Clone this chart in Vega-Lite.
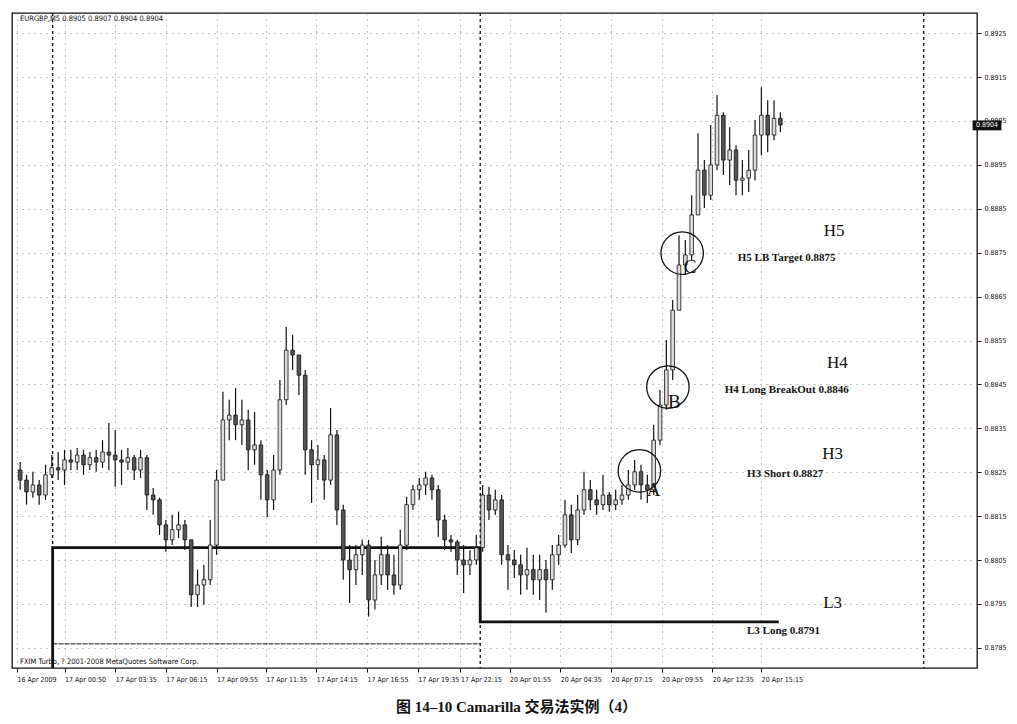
{
  "$schema": "https://vega.github.io/schema/vega-lite/v6.json",
  "width": 965,
  "height": 655,
  "autosize": {"type": "none"},
  "padding": {"left": 12, "top": 13, "right": 40, "bottom": 56},
  "background": "#ffffff",
  "title": {
    "text": "图 14–10   Camarilla 交易法实例（4）",
    "orient": "bottom",
    "anchor": "middle",
    "offset": 18,
    "dx": 22,
    "fontSize": 15,
    "font": "Liberation Serif, Noto Sans CJK SC",
    "fontWeight": "bold",
    "color": "#111"
  },
  "datasets": {
    "bars": [
      {"t":2,"o":0.88255,"h":0.88273,"l":0.88210,"c":0.88232},
      {"t":6,"o":0.88232,"h":0.88244,"l":0.88176,"c":0.88205},
      {"t":10,"o":0.88205,"h":0.88251,"l":0.88192,"c":0.88221},
      {"t":14,"o":0.88221,"h":0.88232,"l":0.88176,"c":0.88198},
      {"t":18,"o":0.88198,"h":0.88267,"l":0.88187,"c":0.88244},
      {"t":22,"o":0.88244,"h":0.88289,"l":0.88237,"c":0.88260},
      {"t":26,"o":0.88260,"h":0.88296,"l":0.88232,"c":0.88255},
      {"t":30,"o":0.88255,"h":0.88301,"l":0.88221,"c":0.88278},
      {"t":34,"o":0.88278,"h":0.88301,"l":0.88255,"c":0.88273},
      {"t":38,"o":0.88273,"h":0.88305,"l":0.88255,"c":0.88289},
      {"t":42,"o":0.88289,"h":0.88301,"l":0.88244,"c":0.88267},
      {"t":46,"o":0.88267,"h":0.88296,"l":0.88255,"c":0.88283},
      {"t":50,"o":0.88283,"h":0.88301,"l":0.88251,"c":0.88273},
      {"t":54,"o":0.88273,"h":0.88323,"l":0.88260,"c":0.88296},
      {"t":58,"o":0.88296,"h":0.88362,"l":0.88255,"c":0.88289},
      {"t":62,"o":0.88289,"h":0.88346,"l":0.88217,"c":0.88278},
      {"t":66,"o":0.88278,"h":0.88301,"l":0.88221,"c":0.88273},
      {"t":70,"o":0.88273,"h":0.88305,"l":0.88255,"c":0.88283},
      {"t":74,"o":0.88283,"h":0.88289,"l":0.88232,"c":0.88255},
      {"t":78,"o":0.88255,"h":0.88301,"l":0.88237,"c":0.88283},
      {"t":82,"o":0.88283,"h":0.88289,"l":0.88164,"c":0.88198},
      {"t":86,"o":0.88198,"h":0.88214,"l":0.88153,"c":0.88187},
      {"t":90,"o":0.88187,"h":0.88192,"l":0.88107,"c":0.88130},
      {"t":94,"o":0.88130,"h":0.88141,"l":0.88069,"c":0.88096},
      {"t":98,"o":0.88096,"h":0.88153,"l":0.88084,"c":0.88119},
      {"t":102,"o":0.88119,"h":0.88160,"l":0.88100,"c":0.88130},
      {"t":106,"o":0.88130,"h":0.88141,"l":0.88073,"c":0.88096},
      {"t":110,"o":0.88096,"h":0.88096,"l":0.87943,"c":0.87971},
      {"t":114,"o":0.87971,"h":0.88028,"l":0.87943,"c":0.87993},
      {"t":118,"o":0.87993,"h":0.88039,"l":0.87948,"c":0.88005},
      {"t":122,"o":0.88005,"h":0.88141,"l":0.87993,"c":0.88084},
      {"t":126,"o":0.88084,"h":0.88255,"l":0.88062,"c":0.88232},
      {"t":130,"o":0.88232,"h":0.88433,"l":0.88232,"c":0.88369},
      {"t":134,"o":0.88369,"h":0.88415,"l":0.88323,"c":0.88380},
      {"t":138,"o":0.88380,"h":0.88442,"l":0.88323,"c":0.88358},
      {"t":142,"o":0.88358,"h":0.88415,"l":0.88312,"c":0.88369},
      {"t":146,"o":0.88369,"h":0.88392,"l":0.88255,"c":0.88301},
      {"t":150,"o":0.88301,"h":0.88387,"l":0.88267,"c":0.88312},
      {"t":154,"o":0.88312,"h":0.88323,"l":0.88187,"c":0.88244},
      {"t":158,"o":0.88244,"h":0.88255,"l":0.88148,"c":0.88187},
      {"t":162,"o":0.88187,"h":0.88289,"l":0.88164,"c":0.88255},
      {"t":166,"o":0.88255,"h":0.88460,"l":0.88244,"c":0.88415},
      {"t":170,"o":0.88415,"h":0.88581,"l":0.88403,"c":0.88528},
      {"t":174,"o":0.88528,"h":0.88563,"l":0.88483,"c":0.88517},
      {"t":178,"o":0.88517,"h":0.88517,"l":0.88426,"c":0.88471},
      {"t":182,"o":0.88471,"h":0.88483,"l":0.88244,"c":0.88301},
      {"t":186,"o":0.88301,"h":0.88323,"l":0.88180,"c":0.88267},
      {"t":190,"o":0.88267,"h":0.88312,"l":0.88232,"c":0.88278},
      {"t":194,"o":0.88278,"h":0.88289,"l":0.88187,"c":0.88232},
      {"t":198,"o":0.88232,"h":0.88396,"l":0.88221,"c":0.88335},
      {"t":202,"o":0.88335,"h":0.88346,"l":0.88130,"c":0.88164},
      {"t":206,"o":0.88164,"h":0.88176,"l":0.88005,"c":0.88050},
      {"t":210,"o":0.88050,"h":0.88084,"l":0.87952,"c":0.88028},
      {"t":214,"o":0.88028,"h":0.88084,"l":0.87993,"c":0.88062},
      {"t":218,"o":0.88062,"h":0.88096,"l":0.88016,"c":0.88084},
      {"t":222,"o":0.88084,"h":0.88096,"l":0.87921,"c":0.87959},
      {"t":226,"o":0.87959,"h":0.88050,"l":0.87937,"c":0.88016},
      {"t":230,"o":0.88016,"h":0.88103,"l":0.87993,"c":0.88062},
      {"t":234,"o":0.88062,"h":0.88084,"l":0.87982,"c":0.88016},
      {"t":238,"o":0.88016,"h":0.88062,"l":0.87971,"c":0.87993},
      {"t":242,"o":0.87993,"h":0.88119,"l":0.87982,"c":0.88084},
      {"t":246,"o":0.88084,"h":0.88194,"l":0.88073,"c":0.88176},
      {"t":250,"o":0.88176,"h":0.88221,"l":0.88164,"c":0.88210},
      {"t":254,"o":0.88210,"h":0.88237,"l":0.88187,"c":0.88221},
      {"t":258,"o":0.88221,"h":0.88251,"l":0.88198,"c":0.88237},
      {"t":262,"o":0.88237,"h":0.88244,"l":0.88187,"c":0.88210},
      {"t":266,"o":0.88210,"h":0.88221,"l":0.88103,"c":0.88141},
      {"t":270,"o":0.88141,"h":0.88153,"l":0.88073,"c":0.88096},
      {"t":274,"o":0.88096,"h":0.88107,"l":0.88069,"c":0.88091},
      {"t":278,"o":0.88091,"h":0.88096,"l":0.88016,"c":0.88050},
      {"t":282,"o":0.88050,"h":0.88084,"l":0.87975,"c":0.88039},
      {"t":286,"o":0.88039,"h":0.88073,"l":0.88016,"c":0.88050},
      {"t":290,"o":0.88050,"h":0.88107,"l":0.88039,"c":0.88078},
      {"t":294,"o":0.88078,"h":0.88221,"l":0.88069,"c":0.88198},
      {"t":298,"o":0.88198,"h":0.88217,"l":0.88141,"c":0.88164},
      {"t":302,"o":0.88164,"h":0.88210,"l":0.88153,"c":0.88187},
      {"t":306,"o":0.88187,"h":0.88198,"l":0.88039,"c":0.88062},
      {"t":310,"o":0.88062,"h":0.88084,"l":0.87982,"c":0.88050},
      {"t":314,"o":0.88050,"h":0.88073,"l":0.88009,"c":0.88039},
      {"t":318,"o":0.88039,"h":0.88062,"l":0.87971,"c":0.88016},
      {"t":322,"o":0.88016,"h":0.88078,"l":0.87982,"c":0.88028},
      {"t":326,"o":0.88028,"h":0.88062,"l":0.87971,"c":0.88005},
      {"t":330,"o":0.88005,"h":0.88062,"l":0.87959,"c":0.88028},
      {"t":334,"o":0.88028,"h":0.88050,"l":0.87930,"c":0.88005},
      {"t":338,"o":0.88005,"h":0.88084,"l":0.87982,"c":0.88062},
      {"t":342,"o":0.88062,"h":0.88107,"l":0.88039,"c":0.88084},
      {"t":346,"o":0.88084,"h":0.88187,"l":0.88078,"c":0.88153},
      {"t":350,"o":0.88153,"h":0.88176,"l":0.88066,"c":0.88096},
      {"t":354,"o":0.88096,"h":0.88198,"l":0.88084,"c":0.88164},
      {"t":358,"o":0.88164,"h":0.88251,"l":0.88153,"c":0.88210},
      {"t":362,"o":0.88210,"h":0.88232,"l":0.88164,"c":0.88187},
      {"t":366,"o":0.88187,"h":0.88210,"l":0.88153,"c":0.88176},
      {"t":370,"o":0.88176,"h":0.88244,"l":0.88164,"c":0.88198},
      {"t":374,"o":0.88198,"h":0.88205,"l":0.88160,"c":0.88176},
      {"t":378,"o":0.88176,"h":0.88210,"l":0.88164,"c":0.88187},
      {"t":382,"o":0.88187,"h":0.88221,"l":0.88176,"c":0.88198},
      {"t":386,"o":0.88198,"h":0.88255,"l":0.88187,"c":0.88221},
      {"t":390,"o":0.88221,"h":0.88278,"l":0.88210,"c":0.88251},
      {"t":394,"o":0.88251,"h":0.88267,"l":0.88187,"c":0.88221},
      {"t":398,"o":0.88221,"h":0.88244,"l":0.88180,"c":0.88210},
      {"t":402,"o":0.88210,"h":0.88358,"l":0.88198,"c":0.88323},
      {"t":406,"o":0.88323,"h":0.88437,"l":0.88312,"c":0.88403},
      {"t":410,"o":0.88403,"h":0.88551,"l":0.88392,"c":0.88483},
      {"t":414,"o":0.88483,"h":0.88642,"l":0.88460,"c":0.88619},
      {"t":418,"o":0.88619,"h":0.88790,"l":0.88619,"c":0.88722},
      {"t":422,"o":0.88722,"h":0.88779,"l":0.88699,"c":0.88745},
      {"t":426,"o":0.88745,"h":0.88881,"l":0.88733,"c":0.88836},
      {"t":430,"o":0.88836,"h":0.89022,"l":0.88836,"c":0.88938},
      {"t":434,"o":0.88938,"h":0.88961,"l":0.88852,"c":0.88881},
      {"t":438,"o":0.88881,"h":0.89041,"l":0.88870,"c":0.88950},
      {"t":442,"o":0.88950,"h":0.89109,"l":0.88938,"c":0.89063},
      {"t":446,"o":0.89063,"h":0.89070,"l":0.88927,"c":0.88961},
      {"t":450,"o":0.88961,"h":0.89036,"l":0.88904,"c":0.88984},
      {"t":454,"o":0.88984,"h":0.88995,"l":0.88881,"c":0.88915},
      {"t":458,"o":0.88915,"h":0.88961,"l":0.88881,"c":0.88920},
      {"t":462,"o":0.88920,"h":0.88984,"l":0.88888,"c":0.88938},
      {"t":466,"o":0.88938,"h":0.89052,"l":0.88915,"c":0.89018},
      {"t":470,"o":0.89018,"h":0.89127,"l":0.88972,"c":0.89063},
      {"t":474,"o":0.89063,"h":0.89097,"l":0.88979,"c":0.89018},
      {"t":478,"o":0.89018,"h":0.89097,"l":0.89006,"c":0.89056},
      {"t":482,"o":0.89056,"h":0.89070,"l":0.89025,"c":0.89041}
    ],
    "separators": [
      {"t": 22.5, "top": 0.89296, "bottom": 0.88078},
      {"t": 292.5, "top": 0.89296, "bottom": 0.87804},
      {"t": 572.5, "top": 0.89296, "bottom": 0.87804}
    ],
    "l3step": [
      {"i": 0, "t": 22.5, "p": 0.87804},
      {"i": 1, "t": 22.5, "p": 0.88078},
      {"i": 2, "t": 292.5, "p": 0.88078},
      {"i": 3, "t": 292.5, "p": 0.87909},
      {"i": 4, "t": 481, "p": 0.87909}
    ],
    "thinlevel": [
      {"t": 22.5, "t2": 292.5, "p": 0.87859}
    ],
    "levelnames": [
      {"t": 516, "p": 0.88799, "label": "H5"},
      {"t": 518, "p": 0.88499, "label": "H4"},
      {"t": 515, "p": 0.88292, "label": "H3"},
      {"t": 515, "p": 0.87952, "label": "L3"}
    ],
    "levelnotes": [
      {"t": 486, "p": 0.88738, "label": "H5 LB Target 0.8875"},
      {"t": 486, "p": 0.88437, "label": "H4 Long BreakOut 0.8846"},
      {"t": 485, "p": 0.88246, "label": "H3 Short 0.8827"},
      {"t": 484, "p": 0.87889, "label": "L3 Long 0.8791"}
    ],
    "circles": [
      {"t": 420, "p": 0.88749, "letter": "C", "lt": 425, "lp": 0.88717},
      {"t": 411, "p": 0.88444, "letter": "B", "lt": 415, "lp": 0.88410},
      {"t": 393, "p": 0.88253, "letter": "A", "lt": 402, "lp": 0.88210}
    ]
  },
  "layer": [
    {
      "data": {"name": "separators"},
      "mark": {"type": "rule", "color": "#111", "strokeWidth": 1.3, "strokeDash": [3, 3]},
      "encoding": {
        "x": {
          "field": "t", "type": "quantitative",
          "scale": {"domain": [0, 603], "nice": false, "zero": false},
          "axis": {
            "orient": "bottom",
            "title": null,
            "values": [0, 30, 62, 94, 126, 157, 189, 221, 253, 280, 311, 343, 375, 407, 439, 470],
            "labelExpr": "['16 Apr 2009','17 Apr 00:50','17 Apr 03:35','17 Apr 06:15','17 Apr 09:55','17 Apr 11:35','17 Apr 14:15','17 Apr 16:55','17 Apr 19:35','17 Apr 22:15','20 Apr 01:55','20 Apr 04:35','20 Apr 07:15','20 Apr 09:55','20 Apr 12:35','20 Apr 15:15'][indexof([0,30,62,94,126,157,189,221,253,280,311,343,375,407,439,470], datum.value)]",
            "labelAlign": "left",
            "labelFont": "Liberation Sans Narrow, DejaVu Sans Condensed, sans-serif",
            "labelFontSize": 7,
            "labelColor": "#111",
            "labelPadding": 3,
            "labelOverlap": false,
            "labelFlush": false,
            "tickSize": 4,
            "tickColor": "#111",
            "domain": false,
            "grid": true,
            "gridColor": "#777",
            "gridDash": [1, 5],
            "gridOpacity": 0.8
          }
        },
        "y": {
          "field": "top", "type": "quantitative",
          "scale": {"domain": [0.87804, 0.89296], "nice": false, "zero": false},
          "axis": {
            "orient": "right",
            "title": null,
            "values": [0.8785, 0.8795, 0.8805, 0.8815, 0.8825, 0.8835, 0.8845, 0.8855, 0.8865, 0.8875, 0.8885, 0.8895, 0.8905, 0.8915, 0.8925],
            "format": ".4f",
            "labelFont": "Liberation Sans Narrow, DejaVu Sans Condensed, sans-serif",
            "labelFontSize": 7,
            "labelColor": "#111",
            "labelPadding": 3,
            "tickSize": 4,
            "tickColor": "#111",
            "domain": false,
            "grid": true,
            "gridColor": "#777",
            "gridDash": [1, 5],
            "gridOpacity": 0.8
          }
        },
        "y2": {"field": "bottom"}
      }
    },
    {
      "data": {"name": "thinlevel"},
      "mark": {"type": "rule", "color": "#111", "strokeWidth": 1, "strokeDash": [5, 1]},
      "encoding": {
        "x": {"field": "t", "type": "quantitative"},
        "x2": {"field": "t2"},
        "y": {"field": "p", "type": "quantitative"}
      }
    },
    {
      "data": {"name": "l3step"},
      "mark": {"type": "line", "color": "#111", "strokeWidth": 2.8, "strokeJoin": "miter"},
      "encoding": {
        "x": {"field": "t", "type": "quantitative"},
        "y": {"field": "p", "type": "quantitative"},
        "order": {"field": "i"}
      }
    },
    {
      "data": {"name": "bars"},
      "mark": {"type": "rule", "color": "#111", "strokeWidth": 1.2},
      "encoding": {
        "x": {"field": "t", "type": "quantitative"},
        "y": {"field": "l", "type": "quantitative"},
        "y2": {"field": "h"}
      }
    },
    {
      "data": {"name": "bars"},
      "mark": {"type": "bar", "size": 3.6, "stroke": "#111", "strokeWidth": 0.8},
      "encoding": {
        "x": {"field": "t", "type": "quantitative"},
        "y": {"field": "o", "type": "quantitative"},
        "y2": {"field": "c"},
        "color": {
          "condition": {"test": "datum.c >= datum.o", "value": "#dddddd"},
          "value": "#555555"
        }
      }
    },
    {
      "data": {"name": "circles"},
      "mark": {"type": "point", "shape": "circle", "filled": false, "size": 1800, "stroke": "#111", "strokeWidth": 1.3, "opacity": 1},
      "encoding": {
        "x": {"field": "t", "type": "quantitative"},
        "y": {"field": "p", "type": "quantitative"}
      }
    },
    {
      "data": {"name": "circles"},
      "mark": {"type": "text", "font": "Liberation Serif", "fontSize": 19, "color": "#111", "baseline": "middle", "align": "center"},
      "encoding": {
        "x": {"field": "lt", "type": "quantitative"},
        "y": {"field": "lp", "type": "quantitative"},
        "text": {"field": "letter"}
      }
    },
    {
      "data": {"name": "levelnames"},
      "mark": {"type": "text", "font": "Liberation Serif", "fontSize": 17, "color": "#111", "baseline": "middle", "align": "center"},
      "encoding": {
        "x": {"field": "t", "type": "quantitative"},
        "y": {"field": "p", "type": "quantitative"},
        "text": {"field": "label"}
      }
    },
    {
      "data": {"name": "levelnotes"},
      "mark": {"type": "text", "font": "Liberation Serif", "fontSize": 11, "fontWeight": "bold", "color": "#111", "baseline": "middle", "align": "center"},
      "encoding": {
        "x": {"field": "t", "type": "quantitative"},
        "y": {"field": "p", "type": "quantitative"},
        "text": {"field": "label"}
      }
    },
    {
      "data": {"values": [{"label": "EURGBP,M5  0.8905 0.8907 0.8904 0.8904"}]},
      "mark": {"type": "text", "font": "Liberation Sans Narrow, DejaVu Sans Condensed, sans-serif", "fontSize": 7.5, "color": "#111", "align": "left", "baseline": "top", "dx": 3, "dy": 2},
      "encoding": {
        "x": {"datum": 0, "type": "quantitative"},
        "y": {"datum": 0.89296, "type": "quantitative"},
        "text": {"field": "label"}
      }
    },
    {
      "data": {"values": [{"label": "FXIM Turbo, ? 2001-2008 MetaQuotes Software Corp."}]},
      "mark": {"type": "text", "font": "Liberation Sans Narrow, DejaVu Sans Condensed, sans-serif", "fontSize": 7.5, "color": "#111", "align": "left", "baseline": "bottom", "dx": 3, "dy": -2},
      "encoding": {
        "x": {"datum": 0, "type": "quantitative"},
        "y": {"datum": 0.87804, "type": "quantitative"},
        "text": {"field": "label"}
      }
    },
    {
      "data": {"values": [{"p": 0.8904, "label": "0.8904"}]},
      "mark": {"type": "point", "shape": "M-1.6,-0.55H1.6V0.55H-1.6Z", "filled": true, "size": 324, "color": "#111", "opacity": 1, "xOffset": 15, "clip": false},
      "encoding": {
        "x": {"datum": 603, "type": "quantitative"},
        "y": {"field": "p", "type": "quantitative"}
      }
    },
    {
      "data": {"values": [{"p": 0.8904, "label": "0.8904"}]},
      "mark": {"type": "text", "font": "Liberation Sans Narrow, DejaVu Sans Condensed, sans-serif", "fontSize": 7, "color": "#ffffff", "align": "center", "baseline": "middle", "xOffset": 15, "clip": false},
      "encoding": {
        "x": {"datum": 603, "type": "quantitative"},
        "y": {"field": "p", "type": "quantitative"},
        "text": {"field": "label"}
      }
    }
  ],
  "config": {
    "view": {"stroke": "#111", "strokeWidth": 1.3},
    "axis": {"labelFont": "Liberation Sans Narrow, DejaVu Sans Condensed, sans-serif"}
  }
}
